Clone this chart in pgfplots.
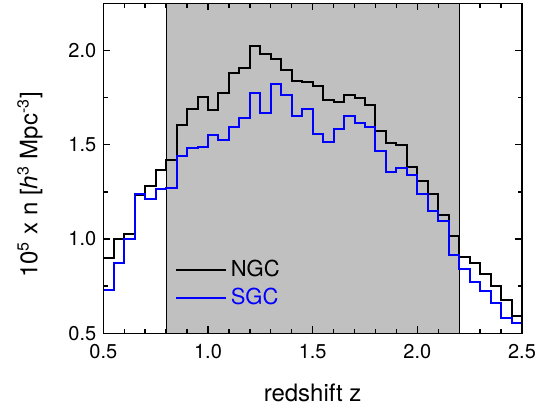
\documentclass[border=0pt]{standalone}
\usepackage{fontspec}
\setmainfont{TeX Gyre Heros}
\usepackage{pgfplots}
\pgfplotsset{compat=1.18}
\definecolor{shade}{RGB}{192,192,192}
\definecolor{sgcblue}{RGB}{0,0,255}

% bin left edges, last row repeats final value at z=2.5
\pgfplotstableread{
z     ngc    sgc
0.50  0.902  0.729
0.55  0.998  0.874
0.60  1.029  0.998
0.65  1.232  1.241
0.70  1.280  1.213
0.75  1.368  1.264
0.80  1.418  1.268
0.85  1.606  1.439
0.90  1.689  1.485
0.95  1.755  1.488
1.00  1.686  1.554
1.05  1.774  1.527
1.10  1.880  1.592
1.15  1.908  1.644
1.20  2.023  1.776
1.25  1.979  1.670
1.30  1.956  1.822
1.35  1.898  1.765
1.40  1.838  1.652
1.45  1.832  1.688
1.50  1.810  1.555
1.55  1.735  1.515
1.60  1.726  1.582
1.65  1.765  1.651
1.70  1.749  1.615
1.75  1.709  1.594
1.80  1.571  1.465
1.85  1.511  1.356
1.90  1.497  1.377
1.95  1.382  1.338
2.00  1.308  1.241
2.05  1.238  1.149
2.10  1.127  1.097
2.15  1.017  0.915
2.20  0.906  0.839
2.25  0.874  0.774
2.30  0.814  0.724
2.35  0.751  0.662
2.40  0.677  0.579
2.45  0.592  0.553
2.50  0.592  0.553
}\nz

\begin{document}
\begin{tikzpicture}
\begin{axis}[
    scale only axis,
    width=209.35pt, height=165pt,
    xmin=0.5, xmax=2.5, ymin=0.5, ymax=2.25,
    axis on top,
    axis line style={line width=0.8pt},
    xtick={0.5,1.0,...,2.5}, minor x tick num=4,
    ytick={0.5,1.0,1.5,2.0}, minor y tick num=1,
    tick align=inside,
    tick style={line width=0.7pt, black},
    major tick length=3.5pt, minor tick length=2.2pt,
    tick label style={font=\fontsize{10}{12}\selectfont},
    x tick label style={yshift=-1.8pt},
    /pgf/number format/assume math mode=true,
    xticklabel style={/pgf/number format/.cd, fixed, fixed zerofill, precision=1},
    yticklabel style={/pgf/number format/.cd, fixed, fixed zerofill, precision=1},
    label style={font=\fontsize{12}{14}\selectfont},
    xlabel={redshift z},
    xlabel style={at={(axis description cs:0.5,-0.131)}, anchor=north},
    ylabel={10\textsuperscript{5} x n [\textit{h}\textsuperscript{3} Mpc\textsuperscript{-3}]},
    ylabel style={at={(axis description cs:-0.175,0.45)}, anchor=center},
    legend style={draw=none, fill=none, at={(axis cs:0.83,0.92)}, anchor=north west,
      font=\fontsize{11}{13}\selectfont, row sep=0pt, inner sep=1pt},
    legend cell align=left,
    legend image code/.code={\draw[#1] (0pt,0pt) -- (25pt,0pt);},
]
\addplot[draw=black, line width=0.6pt, fill=shade, forget plot]
    coordinates {(0.8,0.5) (0.8,2.25) (2.2,2.25) (2.2,0.5)} -- cycle;
\addplot[black, line width=1pt, const plot mark left] table[x=z, y=ngc] {\nz};
\addlegendentry{NGC}
\addplot[sgcblue, line width=1pt, const plot mark left] table[x=z, y=sgc] {\nz};
\addlegendentry{\textcolor{sgcblue}{SGC}}
\end{axis}
\path ([shift={(-51.65pt,-37.85pt)}]current axis.south west)
  rectangle ([shift={(13pt,1.65pt)}]current axis.north east);
\end{tikzpicture}
\end{document}
